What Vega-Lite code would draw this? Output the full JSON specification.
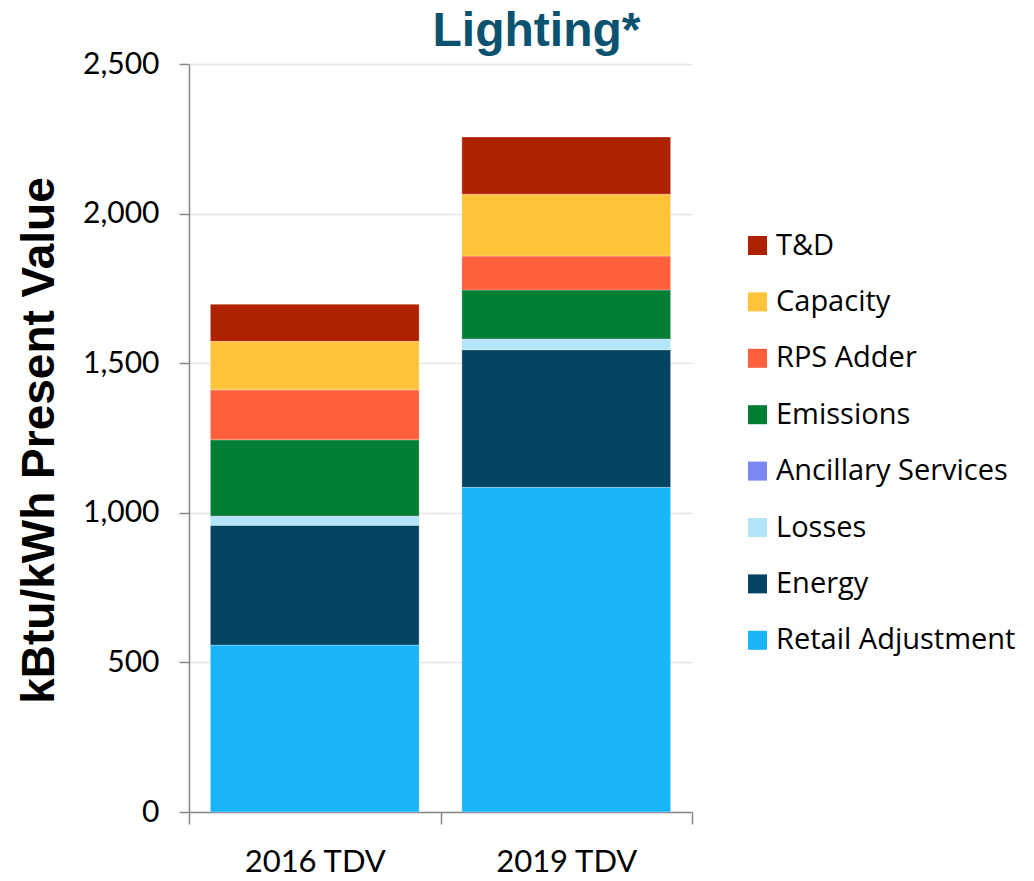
{
  "$schema": "https://vega.github.io/schema/vega-lite/v6.json",
  "autosize": "none",
  "width": 503,
  "height": 748,
  "padding": {"left": 189, "top": 64, "right": 342, "bottom": 69},
  "background": "white",
  "title": {
    "text": "Lighting*",
    "font": "Liberation Sans",
    "fontSize": 48,
    "fontWeight": "bold",
    "color": "#0B5270",
    "anchor": "middle",
    "frame": "group",
    "dx": 96,
    "offset": -7
  },
  "data": {
    "values": [
      {"case": "2016 TDV", "component": "Retail Adjustment", "ord": 1, "value": 558},
      {"case": "2016 TDV", "component": "Energy", "ord": 2, "value": 400},
      {"case": "2016 TDV", "component": "Losses", "ord": 3, "value": 29},
      {"case": "2016 TDV", "component": "Ancillary Services", "ord": 4, "value": 2},
      {"case": "2016 TDV", "component": "Emissions", "ord": 5, "value": 255},
      {"case": "2016 TDV", "component": "RPS Adder", "ord": 6, "value": 167},
      {"case": "2016 TDV", "component": "Capacity", "ord": 7, "value": 162},
      {"case": "2016 TDV", "component": "T&D", "ord": 8, "value": 124},
      {"case": "2019 TDV", "component": "Retail Adjustment", "ord": 1, "value": 1085},
      {"case": "2019 TDV", "component": "Energy", "ord": 2, "value": 460},
      {"case": "2019 TDV", "component": "Losses", "ord": 3, "value": 34},
      {"case": "2019 TDV", "component": "Ancillary Services", "ord": 4, "value": 2},
      {"case": "2019 TDV", "component": "Emissions", "ord": 5, "value": 164},
      {"case": "2019 TDV", "component": "RPS Adder", "ord": 6, "value": 113},
      {"case": "2019 TDV", "component": "Capacity", "ord": 7, "value": 207},
      {"case": "2019 TDV", "component": "T&D", "ord": 8, "value": 191}
    ]
  },
  "mark": {"type": "bar", "width": {"band": 0.83}, "stroke": "white", "strokeWidth": 0.5, "strokeOpacity": 0.6},
  "encoding": {
    "x": {
      "field": "case",
      "type": "nominal",
      "sort": null,
      "scale": {"paddingInner": 0, "paddingOuter": 0},
      "axis": {
        "title": null,
        "labelAngle": 0,
        "labelFont": "Lato",
        "labelFontSize": 31,
        "labelColor": "#000000",
        "labelPadding": 23,
        "tickBand": "extent",
        "tickSize": 12,
        "tickColor": "#888888",
        "tickWidth": 1.5,
        "domainColor": "#888888",
        "domainWidth": 1.5,
        "grid": false
      }
    },
    "y": {
      "field": "value",
      "type": "quantitative",
      "stack": "zero",
      "scale": {"domain": [0, 2500], "nice": false},
      "axis": {
        "title": "kBtu/kWh Present Value",
        "titleFont": "Liberation Sans",
        "titleFontSize": 46,
        "titleFontWeight": "bold",
        "titleColor": "#000000",
        "titleX": -150,
        "titleY": 376,
        "titleAlign": "center",
        "titleBaseline": "middle",
        "titleAngle": 270,
        "values": [0, 500, 1000, 1500, 2000, 2500],
        "format": ",d",
        "labelFont": "Lato",
        "labelFontSize": 30,
        "labelColor": "#000000",
        "labelPadding": 20,
        "tickSize": 10,
        "tickColor": "#888888",
        "tickWidth": 1.5,
        "domainColor": "#888888",
        "domainWidth": 1.5,
        "grid": true,
        "gridColor": "#E6E6E6",
        "gridWidth": 1.5
      }
    },
    "color": {
      "field": "component",
      "type": "nominal",
      "scale": {
        "domain": ["T&D", "Capacity", "RPS Adder", "Emissions", "Ancillary Services", "Losses", "Energy", "Retail Adjustment"],
        "range": ["#AE2200", "#FFC439", "#FF5F3A", "#007E34", "#7A87F2", "#B3E5FA", "#034463", "#19B5F8"]
      },
      "legend": {
        "title": null,
        "orient": "none",
        "legendX": 554,
        "legendY": 167,
        "symbolType": "square",
        "symbolSize": 361,
        "symbolStrokeWidth": 0,
        "labelFont": "Open Sans",
        "labelFontSize": 29,
        "labelColor": "#000000",
        "labelOffset": 4,
        "rowPadding": 26.4,
        "labelLimit": 400
      }
    },
    "order": {"field": "ord", "type": "quantitative"}
  },
  "config": {"view": {"stroke": null}}
}
